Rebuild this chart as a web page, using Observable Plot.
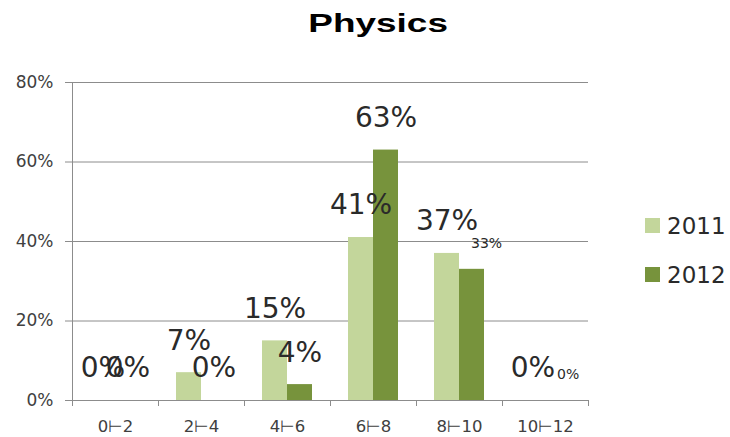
<!DOCTYPE html>
<html>
<head>
<meta charset="utf-8">
<script src="https://cdn.jsdelivr.net/npm/d3@7"></script>
<script src="https://cdn.jsdelivr.net/npm/@observablehq/plot@0.6"></script>
<style>
  html, body { margin: 0; padding: 0; background: #fff; }
  #wrap { position: relative; width: 730px; height: 437px; overflow: hidden; }
  #title { position: absolute; left: 0; top: 10px; width: 756px; text-align: center;
           font-family: "Liberation Sans", Arial, sans-serif; font-weight: bold; font-size: 26px;
           line-height: 26px; color: #000; }
  #title span { display: inline-block; transform: scaleX(1.42); }
  #legend { position: absolute; left: 645px; top: 201px; font-family: "DejaVu Sans", sans-serif;
            font-size: 23px; color: #2a2a2a; }
  #legend .row { display: flex; align-items: center; height: 49px; }
  #legend .sw { width: 15px; height: 15px; margin-right: 7px; }
  #chart { position: absolute; left: 0; top: 0; }
</style>
</head>
<body>
<div id="wrap">
  <div id="chart"></div>
  <div id="title"><span>Physics</span></div>
  <div id="legend"></div>
</div>
<script>
const categories = ["0⊢2", "2⊢4", "4⊢6", "6⊢8", "8⊢10", "10⊢12"];
const series = ["2011", "2012"];
const values2011 = [0, 7, 15, 41, 37, 0];
const values2012 = [0, 0, 4, 63, 33, 0];
const yTicks = [0, 20, 40, 60, 80];
const colors = ["#c3d69b", "#77933c"];
const titleText = "Physics";

const valuesBySeries = [values2011, values2012];
const data = categories.flatMap((c, i) =>
  series.map((s, k) => ({category: c, series: s, value: valuesBySeries[k][i], i, k})));

const half = 43; // half of a category band
const barOffset = 12.5;
const isSmall = d => d.k === 1 && d.i >= 4;

const marks = [
  Plot.gridY({ticks: yTicks, stroke: "#8c8c8c", strokeOpacity: 1}),
  Plot.frame({anchor: "left", stroke: "#8c8c8c"}),
  Plot.ruleY([0], {stroke: "#8c8c8c"}),
  ...series.map((s, k) => Plot.barY(data.filter(d => d.series === s), {
    x: "category", y: "value", fill: "series",
    insetLeft: 30.5, insetRight: 30.5, dx: k === 0 ? -barOffset : barOffset
  })),
  Plot.axisY({ticks: yTicks, tickSize: 7, tickPadding: 12, tickFormat: d => d + "%",
    fontSize: 17, stroke: "#8c8c8c", fill: "#404040", label: null}),
  Plot.axisX({tickSize: 0, tickPadding: 20, fontSize: 16.5, fill: "#404040", label: null}),
  Plot.axisX({tickSize: 6, tickFormat: () => "", dx: -half, stroke: "#8c8c8c", label: null}),
  Plot.axisX({tickSize: 6, tickFormat: () => "", dx: half, stroke: "#8c8c8c", label: null}),
  ...series.map((s, k) => Plot.text(data.filter(d => d.series === s && !isSmall(d)), {
    x: "category", y: "value", text: d => d.value + "%",
    dx: k === 0 ? -barOffset : barOffset, dy: -32, lineAnchor: "middle",
    fontSize: 28, fill: "#2a2a2a"
  })),
  Plot.text(data.filter(isSmall), {
    x: "category", y: "value", text: d => d.value + "%",
    dx: barOffset - 1, dy: -26, lineAnchor: "middle", textAnchor: "start",
    fontSize: 14, fill: "#2a2a2a"
  })
];

const chart = Plot.plot({
  width: 730,
  height: 437,
  marginLeft: 72,
  marginRight: 142,
  marginTop: 82,
  marginBottom: 37,
  style: {fontFamily: "DejaVu Sans, sans-serif", background: "#fff", overflow: "visible"},
  x: {domain: categories, padding: 0, label: null},
  y: {domain: [0, 80], label: null},
  color: {domain: series, range: colors},
  marks
});
document.getElementById("chart").appendChild(chart);

const legend = document.getElementById("legend");
series.forEach((s, k) => {
  const row = document.createElement("div");
  row.className = "row";
  const sw = document.createElement("div");
  sw.className = "sw";
  sw.style.background = colors[k];
  const t = document.createElement("span");
  t.textContent = s;
  row.appendChild(sw);
  row.appendChild(t);
  legend.appendChild(row);
});
document.querySelector("#title span").textContent = titleText;
</script>
</body>
</html>
